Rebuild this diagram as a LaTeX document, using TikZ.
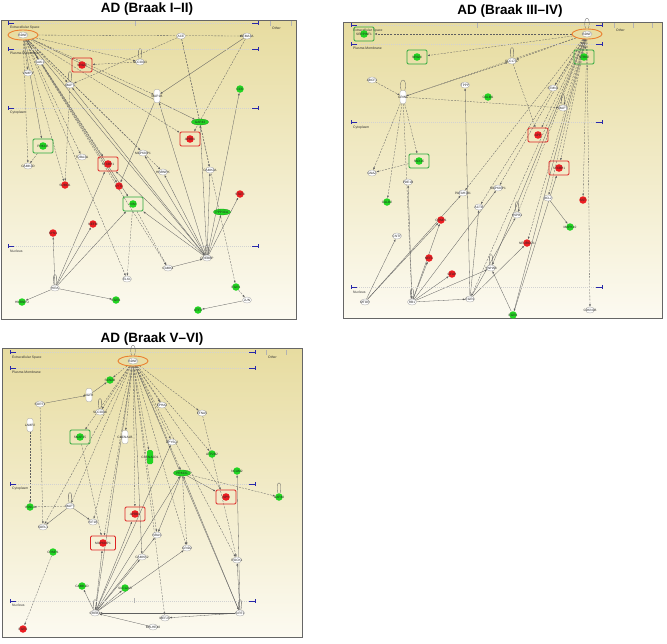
\documentclass[tikz,border=0pt]{standalone}
\usepackage{fontspec}
\setmainfont{Liberation Sans}
\usetikzlibrary{shapes.geometric,arrows.meta}
\pgfdeclarelayer{bg}
\pgfdeclarelayer{links}
\pgfsetlayers{bg,links,main}
\definecolor{bgtop}{RGB}{231,220,160}
\definecolor{bgbot}{RGB}{252,250,241}
\definecolor{nodered}{RGB}{236,30,34}
\definecolor{nodegreen}{RGB}{34,212,34}
\definecolor{boxred}{RGB}{222,36,36}
\definecolor{boxgreen}{RGB}{44,168,60}
\definecolor{bdnfring}{RGB}{234,128,48}
\definecolor{linkgray}{RGB}{95,95,95}
\definecolor{markblue}{RGB}{40,40,170}
\tikzset{
  gene/.style={ellipse,draw=gray!75,fill=white,line width=.3pt,minimum width=9pt,minimum height=6pt,inner sep=0pt},
  genetall/.style={rectangle,rounded corners=2pt,draw=gray!75,fill=white,line width=.3pt,minimum width=6pt,minimum height=13pt,inner sep=0pt},
  up/.style={circle,fill=nodered,minimum size=7.5pt,inner sep=0pt},
  down/.style={circle,fill=nodegreen,minimum size=7.5pt,inner sep=0pt},
  downtall/.style={rectangle,rounded corners=1.5pt,fill=nodegreen,minimum width=6pt,minimum height=14pt,inner sep=0pt},
  downlong/.style={ellipse,fill=nodegreen,draw=nodegreen!70!black,line width=.3pt,minimum width=17pt,minimum height=6pt,inner sep=0pt},
  upbox/.style={rectangle,rounded corners=1.2pt,draw=boxred,line width=.9pt,minimum width=20pt,minimum height=14pt,inner sep=0pt,
    path picture={\fill[nodered] (path picture bounding box.center) circle (3.8pt);}},
  downbox/.style={rectangle,rounded corners=1.2pt,draw=boxgreen,line width=.9pt,minimum width=20pt,minimum height=14pt,inner sep=0pt,
    path picture={\fill[nodegreen] (path picture bounding box.center) circle (3.8pt);}},
  hub/.style={ellipse,draw=bdnfring,line width=.9pt,minimum width=30pt,minimum height=10pt,inner sep=0pt,
    path picture={\filldraw[fill=white,draw=gray!75,line width=.3pt] (path picture bounding box.center) ellipse (5pt and 3pt);}},
  every label/.style={font=\fontsize{3.2}{3.6}\selectfont,text=black!85,inner sep=0pt},
  rel/.style={draw=linkgray,line width=.3pt,->},
  relx/.style={rel,dash pattern=on 2pt off 1.2pt},
  selfloop/.style={draw=linkgray,line width=.3pt,min distance=7pt},
  comp/.style={font=\fontsize{3.4}{4}\selectfont,text=black!80,anchor=west,inner sep=0pt},
  title/.style={font=\fontsize{13.5}{15}\selectfont\bfseries},
  panel/.style={draw=gray!80!black,line width=.9pt,top color=bgtop,bottom color=bgbot}
}
% compartment divider: left x, right x, y
\newcommand{\compline}[3]{%
  \draw[gray!35,line width=.3pt,dash pattern=on 1pt off 1pt] (#1,#3)--(#2,#3);
  \draw[markblue,line width=.6pt] (#1,#3-2)--(#1,#3+2) (#1,#3)--(#1+6,#3) (#2-6,#3)--(#2,#3) (#2,#3-2)--(#2,#3+2);}
\begin{document}
\begin{tikzpicture}[x=1pt,y=-1pt,>={Latex[length=2.4pt,width=1.8pt]}]
\useasboundingbox (0,0) rectangle (667,643);
\begin{pgfonlayer}{bg}
\fill[white] (0,0) rectangle (667,643);
\path[panel] (1,20) rectangle (296,319);
\path[panel] (343,22) rectangle (662,318);
\path[panel] (2,348) rectangle (302,637);
\end{pgfonlayer}

% ---------- AD (Braak I-II)
\node[title] (titleA) at (147,9) {AD (Braak I–II)};
\compline{8}{258}{23}
\compline{8}{258}{49}
\compline{8}{258}{108}
\compline{8}{258}{246}
\node[comp] (exA) at (10,28) {Extracellular Space};
\node[comp] (pmA) at (10,53) {Plasma Membrane};
\node[comp] (cyA) at (10,113) {Cytoplasm};
\node[comp] (nuA) at (10,251) {Nucleus};
\node[comp] (otA) at (272,28) {Other};
\draw[gray!60,line width=.3pt] (135,21)--(135,26) (270,21)--(270,26) (291,21)--(291,26);

\node[hub,label=center:BDNF] (bdnfA) at (23,35) {};
\node[gene,label=center:ACE] (aceA) at (181,36) {};
\node[gene,label=center:SEMA3A] (sema3aA) at (247,36) {};
\node[gene,label=center:AAK1] (aak1A) at (40,62) {};
\node[upbox,label=center:NRGN] (nrgnA) at (82,65) {};
\node[gene,label=center:SLC30A3] (slc30a3A) at (140,62) {};
\node[gene,label=center:VAMP1] (vamp1A) at (28,73) {};
\node[gene,label=center:MAPT] (maptA) at (70,85) {};
\node[genetall,label=center:MAP1B] (map1A) at (157,96) {};
\node[down,label=center:CCK] (cckA) at (240,89) {};
\node[downlong,label=center:GAP43] (gap43A) at (200,122) {};
\node[upbox,label=center:APBB1] (apbb1A) at (190,139) {};
\node[downbox,label=center:PRKCB] (prkcbA) at (43,146) {};
\node[gene,label=center:TUBA3A] (tuba3aA) at (82,157) {};
\node[gene,label=center:MAPK8IP1] (mapk8ip1A) at (143,153) {};
\node[gene,label=center:CAMK2D] (camk2dA) at (28,166) {};
\node[upbox,label=center:STXBP1] (stxbp1A) at (108,164) {};
\node[gene,label=center:HNRNPK] (hnrnpkA) at (163,172) {};
\node[gene,label=center:CAMK2A] (camk2aA) at (210,170) {};
\node[up,label=center:SUMO1] (sumo1A) at (65,185) {};
\node[up,label=center:SYT1] (syt1A) at (119,186) {};
\node[up,label=center:STAT3] (stat3A) at (240,194) {};
\node[downbox,label=center:VIM] (vimA) at (133,204) {};
\node[downlong,label=center:PPP3CA] (ppp3caA) at (222,212) {};
\node[up,label=center:NEFM] (nefmA) at (93,224) {};
\node[up,label=center:SYN1] (syn1A) at (53,233) {};
\node[gene,label=center:CREBBP] (crebbpA) at (207,258) {};
\node[gene,label=center:CAMK4] (camk4A) at (168,268) {};
\node[gene,label=center:ELK1] (elk1A) at (127,279) {};
\node[gene,label=center:HIRA] (hiraA) at (55,288) {};
\node[down,label=center:HNRNPU] (hnrnpuA) at (22,302) {};
\node[down,label=center:EGR3] (egr3A) at (116,300) {};
\node[down,label=center:EGR1] (egr1A) at (236,287) {};
\node[gene,label=center:JUN] (junA) at (247,300) {};
\node[down,label=center:ATF3] (atf3A) at (198,310) {};

\begin{pgfonlayer}{links}
\draw[selfloop] (slc30a3A) to[loop above] (slc30a3A);
\draw[selfloop] (maptA) to[loop above] (maptA);
\draw[selfloop] (crebbpA) to[loop above] (crebbpA);
\draw[selfloop] (hiraA) to[loop above] (hiraA);
\draw[relx] (bdnfA)--(sema3aA);
\draw[relx] (bdnfA)--(slc30a3A);
\draw[relx] (bdnfA)--(maptA);
\draw[relx] (bdnfA)--(aak1A);
\draw[relx] (bdnfA)--(vamp1A);
\draw[rel] (bdnfA)--(prkcbA);
\draw[relx] (bdnfA)--(camk2dA);
\draw[relx] (bdnfA)--(tuba3aA);
\draw[relx] (bdnfA)--(stxbp1A);
\draw[rel] (bdnfA)--(syt1A);
\draw[relx] (bdnfA)--(mapk8ip1A);
\draw[relx] (bdnfA)--(map1A);
\draw[rel] (bdnfA)--(gap43A);
\draw[relx] (bdnfA)--(apbb1A);
\draw[relx] (bdnfA)--(hnrnpkA);
\draw[relx] (bdnfA)--(camk4A);
\draw[relx] (bdnfA)--(elk1A);
\draw[rel] (bdnfA)--(vimA);
\draw[relx] (bdnfA)--(sumo1A);
\draw[rel] (bdnfA)--(crebbpA);
\draw[relx] (aceA)--(maptA);
\draw[relx] (aceA)--(camk2aA);
\draw[relx] (aceA)--(egr1A);
\draw[rel] (sema3aA)--(map1A);
\draw[relx] (sema3aA)--(apbb1A);
\draw[relx] (slc30a3A)--(nrgnA);
\draw[rel] (crebbpA)--(cckA);
\draw[rel] (crebbpA)--(maptA);
\draw[rel] (crebbpA)--(map1A);
\draw[rel] (crebbpA)--(stxbp1A);
\draw[rel] (crebbpA)--(hnrnpkA);
\draw[rel] (crebbpA)--(camk2aA);
\draw[rel] (crebbpA)--(stat3A);
\draw[rel] (crebbpA)--(gap43A);
\draw[rel] (crebbpA)--(mapk8ip1A);
\draw[rel] (crebbpA)--(vimA);
\draw[rel] (crebbpA)--(ppp3caA);
\draw[rel] (camk4A)--(crebbpA);
\draw[relx] (vimA)--(camk4A);
\draw[relx] (vimA)--(elk1A);
\draw[rel] (hiraA)--(vimA);
\draw[rel] (hiraA)--(stxbp1A);
\draw[rel] (hiraA)--(nefmA);
\draw[rel] (hiraA)--(syn1A);
\draw[rel] (hiraA)--(hnrnpuA);
\draw[rel] (hiraA)--(egr3A);
\draw[rel] (map1A)--(syt1A);
\draw[relx] (maptA)--(sumo1A);
\draw[relx] (prkcbA)--(camk2dA);
\draw[relx] (egr1A)--(junA);
\draw[rel] (junA)--(atf3A);
\end{pgfonlayer}

% ---------- AD (Braak III-IV)
\node[title] (titleB) at (510,11) {AD (Braak III–IV)};
\compline{351}{602}{25}
\compline{351}{602}{44}
\compline{351}{602}{122}
\compline{351}{602}{287}
\node[comp] (exB) at (353,31) {Extracellular Space};
\node[comp] (pmB) at (353,48) {Plasma Membrane};
\node[comp] (cyB) at (353,128) {Cytoplasm};
\node[comp] (nuB) at (353,292) {Nucleus};
\node[comp] (otB) at (616,30) {Other};
\draw[gray!60,line width=.3pt] (477,23)--(477,28) (614,23)--(614,28) (633,23)--(633,28) (652,23)--(652,28);

\node[hub,label=center:BDNF] (bdnfB) at (587,34) {};
\node[downbox,label=center:SERPINF1] (serpinf1B) at (364,34) {};
\node[downbox,label=center:NRGN] (nrgnB) at (417,57) {};
\node[downbox,label=center:NTRK2] (ntrk2B) at (584,57) {};
\node[gene,label=center:SLC17A7] (slc17a7B) at (512,61) {};
\node[gene,label=center:ABCF1] (abcf1B) at (372,80) {};
\node[genetall,label=center:GRIN1] (grin1B) at (403,97) {};
\node[gene,label=center:TPPP] (tpppB) at (465,85) {};
\node[down,label=center:CALM1] (calmB) at (488,97) {};
\node[gene,label=center:STMN2] (stmn2B) at (553,88) {};
\node[gene,label=center:MAPT] (maptB) at (563,108) {};
\node[upbox,label=center:APP] (appB) at (538,135) {};
\node[downbox,label=center:SNX15] (snx15B) at (419,161) {};
\node[gene,label=center:GNAZ] (gnazB) at (372,173) {};
\node[gene,label=center:PDE1B] (pde1bB) at (408,182) {};
\node[down,label=center:CALB2] (calb2B) at (387,202) {};
\node[gene,label=center:PAFAH1B1] (pafah1b1B) at (463,193) {};
\node[gene,label=center:MAPK8IP1] (mapk8ip1B) at (498,188) {};
\node[gene,label=center:ACTB] (actbB) at (479,207) {};
\node[gene,label=center:HSPB1] (hspb1B) at (517,215) {};
\node[upbox,label=center:STXBP1] (stxbp1B) at (559,168) {};
\node[gene,label=center:BCL2] (bcl2B) at (548,198) {};
\node[up,label=center:SST] (sstB) at (583,200) {};
\node[down,label=center:MAPK10] (mapk10B) at (570,227) {};
\node[up,label=center:CRMP1] (crmp1B) at (441,220) {};
\node[gene,label=center:CNTF] (cntfB) at (397,236) {};
\node[up,label=center:NEFL] (neflB) at (429,258) {};
\node[up,label=center:GFAP] (gfapB) at (452,274) {};
\node[up,label=center:NEUROD1] (neurod1B) at (527,243) {};
\node[gene,label=center:YWHAB] (ywhabB) at (491,268) {};
\node[gene,label=center:MTOR] (mtorB) at (365,302) {};
\node[gene,label=center:RB1] (rb1B) at (412,302) {};
\node[gene,label=center:EGR1] (egr1B) at (470,299) {};
\node[down,label=center:EGR3] (egr3B) at (513,315) {};
\node[gene,label=center:CDKN1B] (cdkn1bB) at (590,310) {};

\begin{pgfonlayer}{links}
\draw[selfloop] (bdnfB) to[loop above] (bdnfB);
\draw[selfloop] (slc17a7B) to[loop above] (slc17a7B);
\draw[selfloop] (grin1B) to[loop above] (grin1B);
\draw[selfloop] (maptB) to[loop above] (maptB);
\draw[selfloop] (hspb1B) to[loop above] (hspb1B);
\draw[selfloop] (ywhabB) to[loop above] (ywhabB);
\draw[selfloop] (rb1B) to[loop above] (rb1B);
\draw[relx] (bdnfB)--(serpinf1B);
\draw[relx] (bdnfB)--(nrgnB);
\draw[relx] (bdnfB)--(slc17a7B);
\draw[relx] (bdnfB)--(grin1B);
\draw[rel] (bdnfB)--(ntrk2B);
\draw[relx] (bdnfB)--(stmn2B);
\draw[relx] (bdnfB)--(maptB);
\draw[relx] (bdnfB)--(appB);
\draw[relx] (bdnfB)--(stxbp1B);
\draw[relx] (bdnfB)--(bcl2B);
\draw[relx] (bdnfB)--(sstB);
\draw[relx] (bdnfB)--(cdkn1bB);
\draw[relx] (bdnfB)--(hspb1B);
\draw[relx] (bdnfB)--(mapk8ip1B);
\draw[relx] (bdnfB)--(actbB);
\draw[relx] (bdnfB)--(pafah1b1B);
\draw[relx] (bdnfB)--(egr1B);
\draw[rel] (bdnfB)--(ywhabB);
\draw[rel] (bdnfB)--(egr3B);
\draw[relx] (bdnfB)--(neurod1B);
\draw[relx] (abcf1B)--(grin1B);
\draw[relx] (grin1B)--(maptB);
\draw[relx] (grin1B)--(snx15B);
\draw[relx] (grin1B)--(gnazB);
\draw[relx] (grin1B)--(calb2B);
\draw[relx] (grin1B)--(slc17a7B);
\draw[relx] (grin1B)--(rb1B);
\draw[relx] (snx15B)--(gnazB);
\draw[relx] (slc17a7B)--(appB);
\draw[rel] (egr1B)--(tpppB);
\draw[rel] (rb1B)--(pde1bB);
\draw[rel] (rb1B)--(neflB);
\draw[rel] (rb1B)--(crmp1B);
\draw[rel] (rb1B)--(egr1B);
\draw[rel] (rb1B)--(ywhabB);
\draw[rel] (rb1B)--(gfapB);
\draw[rel] (rb1B)--(mapk8ip1B);
\draw[rel] (mtorB)--(cntfB);
\draw[rel] (mtorB)--(crmp1B);
\draw[rel] (mtorB)--(pafah1b1B);
\draw[rel] (egr1B)--(hspb1B);
\draw[rel] (egr1B)--(actbB);
\draw[rel] (egr1B)--(neurod1B);
\draw[rel] (egr3B)--(ywhabB);
\draw[rel] (egr3B)--(stxbp1B);
\draw[rel] (bcl2B)--(mapk10B);
\end{pgfonlayer}

% ---------- AD (Braak V-VI)
\node[title] (titleC) at (152,339) {AD (Braak V–VI)};
\compline{10}{255}{352}
\compline{10}{255}{368}
\compline{10}{255}{484}
\compline{10}{255}{601}
\node[comp] (exC) at (12,358) {Extracellular Space};
\node[comp] (pmC) at (12,372) {Plasma Membrane};
\node[comp] (cyC) at (12,489) {Cytoplasm};
\node[comp] (nuC) at (12,605) {Nucleus};
\node[comp] (otC) at (268,357) {Other};
\draw[gray!60,line width=.3pt] (266,350)--(266,355) (286,350)--(286,355) (134,598)--(134,603);

\node[hub,label=center:BDNF] (bdnfC) at (133,361) {};
\node[down,label=center:SCN2B] (scn2bC) at (110,380) {};
\node[genetall,label=center:NGFR] (ngfrC) at (89,395) {};
\node[gene,label=center:SORT1] (sort1C) at (40,404) {};
\node[gene,label=center:SLC30A3] (slc30a3C) at (100,412) {};
\node[gene,label=center:EPHA2] (epha2C) at (162,405) {};
\node[gene,label=center:EFNA5] (efna5C) at (202,413) {};
\node[genetall,label=center:LAMP2] (lamp2C) at (30,425) {};
\node[downbox,label=center:SNAP25] (snap25C) at (80,437) {};
\node[genetall,label=center:CACNA1B] (cacna1bC) at (125,437) {};
\node[gene,label=center:DPYSL2] (dpysl2C) at (172,442) {};
\node[downtall,label=center:CACNA2D1] (cacna2d1C) at (150,457) {};
\node[down,label=center:ATP2B2] (atp2b2C) at (212,454) {};
\node[down,label=center:NCAM2] (ncam2C) at (237,471) {};
\node[downlong,label=center:PRKCG] (prkcgC) at (182,473) {};
\node[gene,label=center:MAPT] (maptC) at (70,506) {};
\node[down,label=center:VSNL1] (vsnl1C) at (30,507) {};
\node[gene,label=center:SORL1] (sorl1C) at (43,527) {};
\node[gene,label=center:KIF1B] (kif1bC) at (93,522) {};
\node[upbox,label=center:APBB1] (apbb1C) at (135,514) {};
\node[upbox,label=center:NPY] (npyC) at (226,497) {};
\node[down,label=center:GAP43] (gap43C) at (279,497) {};
\node[upbox,minimum width=25pt,label=center:MAPK8IP1] (mapk8ip1C) at (103,543) {};
\node[down,label=center:CRMP1] (crmp1C) at (53,552) {};
\node[gene,label=center:NRAS] (nrasC) at (157,535) {};
\node[gene,label=center:GRID2] (grid2C) at (187,548) {};
\node[gene,label=center:CAMKK2] (camkk2C) at (142,557) {};
\node[gene,label=center:ROCK1] (rock1C) at (237,560) {};
\node[down,label=center:CAMK1D] (camk1dC) at (82,586) {};
\node[down,label=center:SLC12A5] (slc12a5C) at (125,588) {};
\node[gene,label=center:CREB1] (creb1C) at (95,613) {};
\node[gene,label=center:MEF2C] (mef2cC) at (165,618) {};
\node[gene,label=center:BHLHE40] (bhlhe40C) at (153,627) {};
\node[gene,label=center:SIRT1] (sirt1C) at (240,613) {};
\node[up,label=center:EGR2] (egr2C) at (23,629) {};

\begin{pgfonlayer}{links}
\draw[selfloop] (bdnfC) to[loop above] (bdnfC);
\draw[selfloop] (slc30a3C) to[loop above] (slc30a3C);
\draw[selfloop] (maptC) to[loop above] (maptC);
\draw[selfloop] (gap43C) to[loop above] (gap43C);
\draw[selfloop] (creb1C) to[loop above] (creb1C);
\draw[selfloop] (sirt1C) to[loop above] (sirt1C);
\draw[relx] (bdnfC)--(scn2bC);
\draw[relx] (bdnfC)--(slc30a3C);
\draw[relx] (bdnfC)--(epha2C);
\draw[relx] (bdnfC)--(efna5C);
\draw[relx] (bdnfC)--(cacna1bC);
\draw[relx] (bdnfC)--(dpysl2C);
\draw[relx] (bdnfC)--(cacna2d1C);
\draw[relx] (bdnfC)--(atp2b2C);
\draw[relx] (bdnfC)--(snap25C);
\draw[relx] (bdnfC)--(prkcgC);
\draw[relx] (bdnfC)--(npyC);
\draw[relx] (bdnfC)--(apbb1C);
\draw[relx] (bdnfC)--(mapk8ip1C);
\draw[relx] (bdnfC)--(kif1bC);
\draw[relx] (bdnfC)--(maptC);
\draw[relx] (bdnfC)--(nrasC);
\draw[relx] (bdnfC)--(grid2C);
\draw[relx] (bdnfC)--(rock1C);
\draw[rel] (bdnfC)--(camkk2C);
\draw[rel] (bdnfC)--(sirt1C);
\draw[relx] (bdnfC)--(mef2cC);
\draw[rel] (bdnfC)--(creb1C);
\draw[relx] (bdnfC)--(sorl1C);
\draw[rel] (ngfrC)--(scn2bC);
\draw[rel] (sort1C)--(ngfrC);
\draw[relx] (sort1C)--(sorl1C);
\draw[relx] (lamp2C)--(vsnl1C);
\draw[rel] (creb1C)--(camk1dC);
\draw[rel] (creb1C)--(slc12a5C);
\draw[rel] (creb1C)--(mapk8ip1C);
\draw[rel] (creb1C)--(apbb1C);
\draw[rel] (creb1C)--(camkk2C);
\draw[rel] (creb1C)--(grid2C);
\draw[rel] (creb1C)--(prkcgC);
\draw[rel] (creb1C)--(nrasC);
\draw[rel] (creb1C)--(dpysl2C);
\draw[rel] (sirt1C)--(creb1C);
\draw[rel] (sirt1C)--(mef2cC);
\draw[rel] (sirt1C)--(rock1C);
\draw[rel] (sirt1C)--(ncam2C);
\draw[rel] (sirt1C)--(prkcgC);
\draw[rel] (bhlhe40C)--(creb1C);
\draw[rel] (prkcgC)--(npyC);
\draw[relx] (prkcgC)--(gap43C);
\draw[rel] (prkcgC)--(nrasC);
\draw[relx] (prkcgC)--(grid2C);
\draw[relx] (maptC)--(vsnl1C);
\draw[rel] (maptC)--(sorl1C);
\draw[rel] (maptC)--(kif1bC);
\draw[relx] (crmp1C)--(egr2C);
\draw[relx] (snap25C)--(mapk8ip1C);
\draw[relx] (efna5C)--(rock1C);
\end{pgfonlayer}
\end{tikzpicture}
\end{document}
